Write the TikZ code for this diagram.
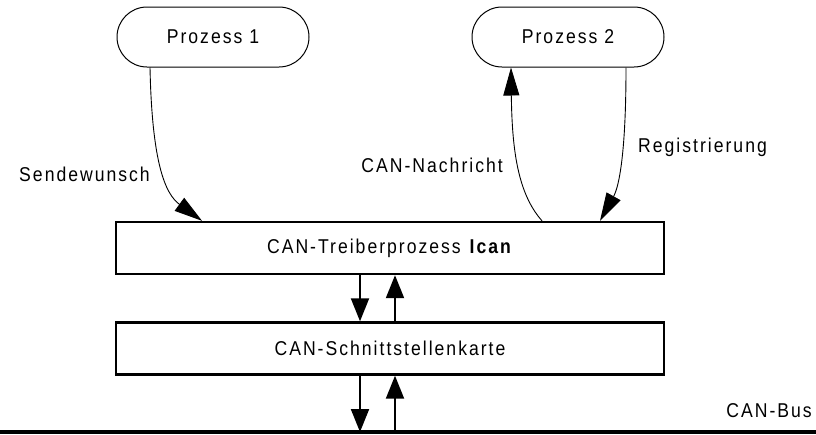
\documentclass[tikz,border=0pt]{standalone}
\usepackage{fontspec}
\setmainfont{Liberation Sans}[LetterSpace=10, FakeStretch=0.88]
\usetikzlibrary{arrows.meta}

\begin{document}
\begin{tikzpicture}[x=1pt, y=-1pt,
  every node/.style={font=\fontsize{20}{23}\selectfont},
  proc/.style={draw, line width=1pt, rounded corners=30pt, minimum width=192pt, minimum height=60pt, inner sep=0pt},
  box/.style={draw, line width=2.4pt, minimum width=548pt, minimum height=52pt, inner sep=0pt},
  lbl/.style={inner sep=0pt},
  flow/.style={line width=0.9pt, -{Triangle[length=28pt, width=16pt]}},
  link/.style={line width=2pt, -{Triangle[length=23pt, width=18pt]}}]
\useasboundingbox (0,0) rectangle (816,434);
\node[proc] (p1) at (213,37) {Prozess 1};
\node[proc] (p2) at (568,37) {Prozess 2};
\node[box] (drv) at (390,248) {CAN-Treiberprozess \textbf{Ican}};
\node[box] (card) at (390,348.5) {CAN-Schnittstellenkarte};
\coordinate (busW) at (0,432);
\coordinate (busE) at (816,432);
\draw[line width=4pt] (busW) -- (busE);
\node[lbl, anchor=base east] (bus) at (812,417) {CAN-Bus};
% Prozesse <-> Treiber
\draw[flow] ([xshift=-63pt]p1.south) .. controls +(2,95) and +(-37,-27) .. ([xshift=-188pt]drv.north);
\node[lbl, anchor=base east] (send) at (150,181) {Sendewunsch};
\draw[flow] ([xshift=152pt]drv.north) .. controls +(-24,-27) and +(1,83) .. ([xshift=-57pt]p2.south);
\node[lbl, anchor=base east] (msg) at (503,172) {CAN-Nachricht};
\draw[flow] ([xshift=58pt]p2.south) .. controls +(0,108) and +(15,-27) .. ([xshift=210pt]drv.north);
\node[lbl, anchor=base west] (reg) at (638,152) {Registrierung};
% Treiber <-> Karte <-> Bus
\draw[link] ([xshift=-30pt]drv.south) -- ([xshift=-30pt]card.north);
\draw[link] ([xshift=5pt]card.north) -- ([xshift=5pt]drv.south);
\draw[link] ([xshift=-30pt]card.south) -- ([xshift=-30pt]card.south |- busW);
\draw[link] ([xshift=5pt]card.south |- busW) -- ([xshift=5pt]card.south);
\end{tikzpicture}
\end{document}
